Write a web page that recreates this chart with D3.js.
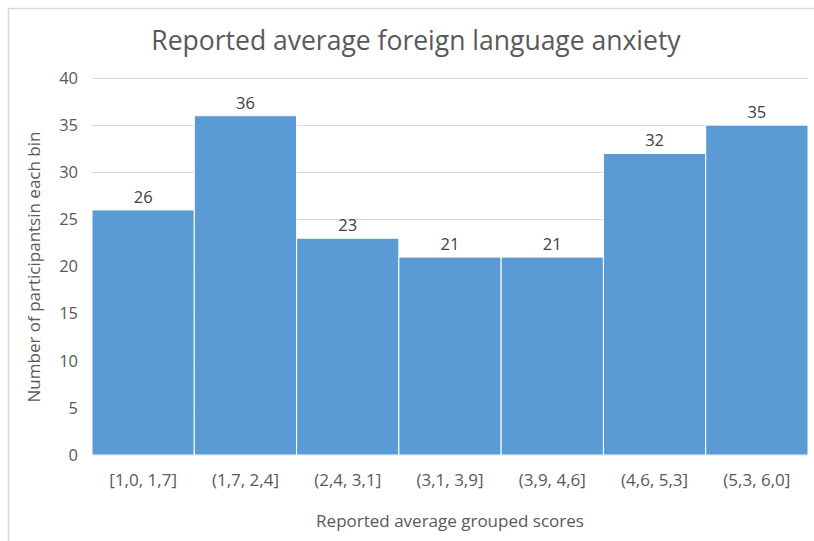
<!DOCTYPE html>
<html>
<head>
<meta charset="utf-8">
<script src="https://cdn.jsdelivr.net/npm/d3@7"></script>
<style>
  html, body { margin: 0; padding: 0; background: #fff; }
  svg text { font-family: "Open Sans", "Noto Sans", sans-serif; }
</style>
</head>
<body>
<svg id="chart" width="814" height="541"></svg>
<script>
// Histogram bins and counts
const bins = ["[1,0, 1,7]", "(1,7, 2,4]", "(2,4, 3,1]", "(3,1, 3,9]", "(3,9, 4,6]", "(4,6, 5,3]", "(5,3, 6,0]"];
const counts = [26, 36, 23, 21, 21, 32, 35];
const yTicks = [0, 5, 10, 15, 20, 25, 30, 35, 40];

const svg = d3.select("#chart");
const W = 814, H = 541;
const plot = { left: 92, right: 808, top: 78, bottom: 455 };

// chart frame (top and left edges; the rest runs off the canvas)
svg.append("path")
  .attr("d", `M8.5,${H} V8.5 H${W}`)
  .attr("fill", "none").attr("stroke", "#d9d9d9").attr("stroke-width", 1.5);

const x = d3.scaleBand().domain(bins).range([plot.left, plot.right]).padding(0);
const y = d3.scaleLinear().domain([0, 40]).range([plot.bottom, plot.top]);

// horizontal gridlines
svg.append("g")
  .selectAll("line")
  .data(yTicks)
  .join("line")
  .attr("x1", plot.left).attr("x2", plot.right)
  .attr("y1", d => Math.round(y(d)) + 0.5).attr("y2", d => Math.round(y(d)) + 0.5)
  .attr("stroke", "#d9d9d9").attr("stroke-width", 1);

// bars
svg.append("g")
  .selectAll("rect")
  .data(counts)
  .join("rect")
  .attr("x", (d, i) => x(bins[i]))
  .attr("y", d => y(d))
  .attr("width", x.bandwidth())
  .attr("height", d => y(0) - y(d))
  .attr("fill", "#5b9bd5")
  .attr("stroke", "#fff")
  .attr("stroke-width", 1);

// value labels
svg.append("g")
  .selectAll("text")
  .data(counts)
  .join("text")
  .attr("x", (d, i) => x(bins[i]) + x.bandwidth() / 2)
  .attr("y", d => y(d) - 7)
  .attr("text-anchor", "middle")
  .attr("font-size", 16.5)
  .attr("fill", "#404040")
  .text(d => d);

// y axis
const yAxis = svg.append("g")
  .attr("transform", `translate(${plot.left},0)`)
  .call(d3.axisLeft(y).tickValues(yTicks).tickSize(0).tickPadding(14));
yAxis.select(".domain").remove();
yAxis.selectAll("text").attr("font-size", 16.5).attr("fill", "#595959")
  .attr("font-family", "Open Sans, sans-serif");

// x axis
const xAxis = svg.append("g")
  .attr("transform", `translate(0,${plot.bottom})`)
  .call(d3.axisBottom(x).tickSize(0).tickPadding(19));
xAxis.select(".domain").remove();
xAxis.selectAll("text").attr("font-size", 17).attr("fill", "#595959")
  .attr("font-family", "Open Sans, sans-serif");

// title
svg.append("text")
  .attr("x", 416).attr("y", 50)
  .attr("text-anchor", "middle")
  .attr("font-size", 26.5)
  .attr("fill", "#595959")
  .text("Reported average foreign language anxiety");

// axis titles
svg.append("text")
  .attr("x", (plot.left + plot.right) / 2).attr("y", 527)
  .attr("text-anchor", "middle")
  .attr("font-size", 17)
  .attr("fill", "#595959")
  .text("Reported average grouped scores");

svg.append("text")
  .attr("transform", `translate(40,267) rotate(-90)`)
  .attr("text-anchor", "middle")
  .attr("font-size", 17)
  .attr("fill", "#595959")
  .text("Number of participantsin each bin");
</script>
</body>
</html>
